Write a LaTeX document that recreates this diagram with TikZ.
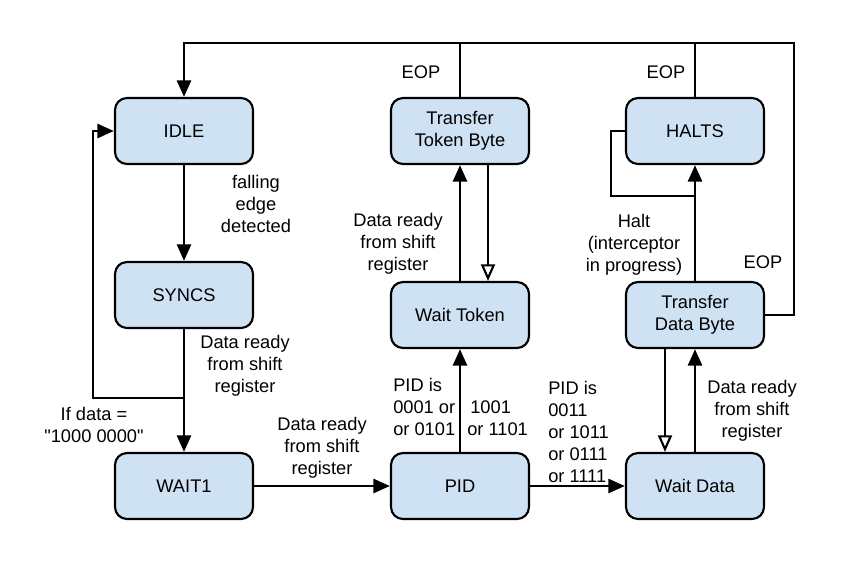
\documentclass[tikz,border=0pt]{standalone}
\usepackage{fontspec}
\setmainfont{Liberation Sans}[Ligatures=TeXOff]
\usetikzlibrary{arrows.meta}
\definecolor{stateblue}{HTML}{CFE2F3}
\begin{document}
\begin{tikzpicture}[x=0.75pt,y=-0.75pt,
  font=\fontsize{13.7}{16.5}\selectfont,
  state/.style={draw, line width=1.6pt, fill=stateblue, rounded corners=9pt,
    minimum width=103.5pt, minimum height=49.5pt, align=center, inner sep=2pt},
  lbl/.style={align=center, inner sep=0pt},
  lbll/.style={align=left, inner sep=0pt, anchor=west},
  arr/.style={line width=2.2pt, -{Triangle[length=12.5pt,width=10.5pt]}},
  oarr/.style={line width=2.2pt, -{Triangle[open,length=12.5pt,width=10.5pt,line width=1.6pt]}},
  wire/.style={line width=2.2pt}]
\useasboundingbox (0,0) rectangle (850,562);
\node[state] (idle) at (184,131) {IDLE};
\node[state] (syncs) at (184,295) {SYNCS};
\node[state] (wait1) at (184,486) {WAIT1};
\node[state] (ttb) at (460,131) {Transfer\\Token Byte};
\node[state] (waitt) at (460,315) {Wait Token};
\node[state] (pid) at (460,486) {PID};
\node[state] (halts) at (695,131) {HALTS};
\node[state] (tdb) at (695,315) {Transfer\\Data Byte};
\node[state] (waitd) at (695,486) {Wait Data};
\coordinate (topR) at (794,43);
\coordinate (split) at (184,398);
\coordinate (loopL) at (93,398);
\coordinate (hloop) at (611,196);
% transitions
\path[draw,arr] (idle) -- (syncs);
\path[draw,arr] (syncs) -- (wait1);
\path[draw,arr] (split) -- (loopL) |- (idle.west);
\path[draw,arr] (wait1) -- (pid);
\path[draw,arr] (pid) -- (waitd);
\path[draw,arr] (pid) -- (waitt);
\path[draw,arr] (waitt) -- (ttb);
\path[draw,oarr] ([xshift=21pt]ttb.south) -- ([xshift=21pt]waitt.north);
\path[draw,arr] (waitd) -- (tdb);
\path[draw,oarr] ([xshift=-22.5pt]tdb.south) -- ([xshift=-22.5pt]waitd.north);
\path[draw,arr] (tdb) -- (halts);
\path[draw,wire] (halts.west) -| (hloop) -- (hloop -| halts.south);
\path[draw,arr] (tdb.east) -| (topR) -| (idle.north);
\path[draw,wire] (ttb.north) -- (ttb.north |- topR);
\path[draw,wire] (halts.north) -- (halts.north |- topR);
% labels
\node[lbl] (l1) at (256,204) {falling\\edge\\detected};
\node[lbl] (l2) at (245,366) {Data ready\\from shift\\register};
\node[lbl] (l3) at (94,425) {If data =\\"1000 0000"};
\node[lbl] (l4) at (322,448) {Data ready\\from shift\\register};
\node[lbl] (l5) at (398,244) {Data ready\\from shift\\register};
\node[lbll] (l6) at (393,407) {PID is\\0001 or\\or 0101};
\node[lbll] (l7) at (467,418) {\,1001\\or 1101};
\node[lbll] (l8) at (548,432) {PID is\\0011\\or 1011\\or 0111\\or 1111};
\node[lbl] (l9) at (752,411) {Data ready\\from shift\\register};
\node[lbl] (l10) at (634,245) {Halt\\(interceptor\\in progress)};
\node[lbl] (e1) at (421,72) {EOP};
\node[lbl] (e2) at (666,72) {EOP};
\node[lbl] (e3) at (763,262) {EOP};
\end{tikzpicture}
\end{document}
